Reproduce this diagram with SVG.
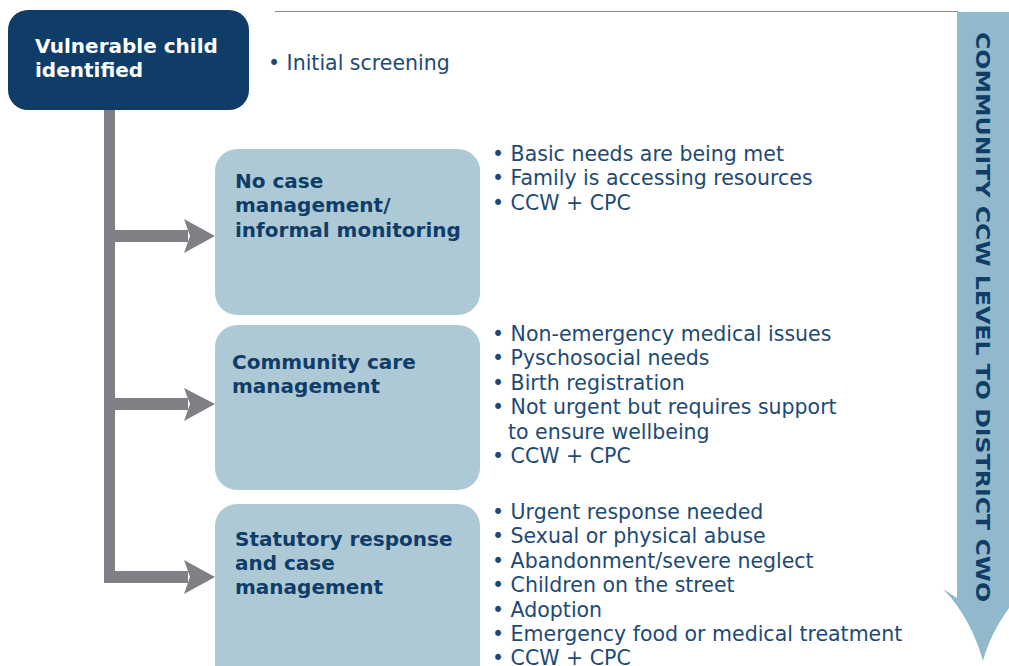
<svg xmlns="http://www.w3.org/2000/svg" width="1009" height="666" viewBox="0 0 1009 666">
<style>
.box{fill:#adc9d6}
.title{font-family:"DejaVu Sans","Liberation Sans",sans-serif;font-weight:bold;font-size:20px;fill:#0f3d68}
.vert{font-family:"DejaVu Sans","Liberation Sans",sans-serif;font-weight:bold;font-size:20px;fill:#0f3d68}
.list{font-family:"DejaVu Sans","Liberation Sans",sans-serif;font-size:20.5px;fill:#1d4a74}
.conn{fill:#7f8085}
</style>
<rect width="1009" height="666" fill="#ffffff"/>
<line x1="275" y1="11.5" x2="958" y2="11.5" stroke="#8a8a8a" stroke-width="1.2"/>
<g id="scale-arrow">
<path d="M957 12 H1009 V598 L1024 590 C1005 610 990 635 983 661 C976 635 962 608 943 589 L957 598 Z" fill="#92b9cb"/>
<text class="vert" transform="translate(976 32) rotate(90)" textLength="570" lengthAdjust="spacingAndGlyphs">COMMUNITY CCW LEVEL TO DISTRICT CWO</text>
</g>
<g id="connectors">
<rect class="conn" x="104" y="108" width="11" height="475"/>
<rect class="conn" x="104" y="230" width="84" height="12"/>
<path class="conn" d="M184 219 L215 236 L184 253 L190 236 Z"/>
<rect class="conn" x="104" y="398" width="84" height="12"/>
<path class="conn" d="M184 388 L215 404 L184 421 L190 404 Z"/>
<rect class="conn" x="104" y="571" width="84" height="12"/>
<path class="conn" d="M184 560 L215 577 L184 594 L190 577 Z"/>
</g>
<g id="node-vulnerable">
<rect x="8" y="10" width="241" height="100" rx="20" fill="#0f3d68"/>
<text class="title" x="35" y="53" style="fill:#ffffff">Vulnerable child</text>
<text class="title" x="35" y="77" style="fill:#ffffff">identified</text>
<text class="list" x="268" y="70">• Initial screening</text>
</g>
<g id="node-no-case">
<rect class="box" x="215" y="149" width="265" height="166" rx="22"/>
<text class="title" x="235" y="188">No case</text>
<text class="title" x="235" y="212">management/</text>
<text class="title" x="235" y="237">informal monitoring</text>
<text class="list" x="492" y="161">• Basic needs are being met</text>
<text class="list" x="492" y="185">• Family is accessing resources</text>
<text class="list" x="492" y="210">• CCW + CPC</text>
</g>
<g id="node-community">
<rect class="box" x="215" y="325" width="265" height="165" rx="22"/>
<text class="title" x="232" y="369">Community care</text>
<text class="title" x="232" y="393">management</text>
<text class="list" x="492" y="341">• Non-emergency medical issues</text>
<text class="list" x="492" y="365">• Pyschosocial needs</text>
<text class="list" x="492" y="390">• Birth registration</text>
<text class="list" x="492" y="414">• Not urgent but requires support</text>
<text class="list" x="508" y="439">to ensure wellbeing</text>
<text class="list" x="492" y="463">• CCW + CPC</text>
</g>
<g id="node-statutory">
<rect class="box" x="215" y="504" width="265" height="190" rx="22"/>
<text class="title" x="235" y="546">Statutory response</text>
<text class="title" x="235" y="570">and case</text>
<text class="title" x="235" y="594">management</text>
<text class="list" x="492" y="519">• Urgent response needed</text>
<text class="list" x="492" y="543">• Sexual or physical abuse</text>
<text class="list" x="492" y="568">• Abandonment/severe neglect</text>
<text class="list" x="492" y="592">• Children on the street</text>
<text class="list" x="492" y="617">• Adoption</text>
<text class="list" x="492" y="641">• Emergency food or medical treatment</text>
<text class="list" x="492" y="665">• CCW + CPC</text>
</g>
</svg>
